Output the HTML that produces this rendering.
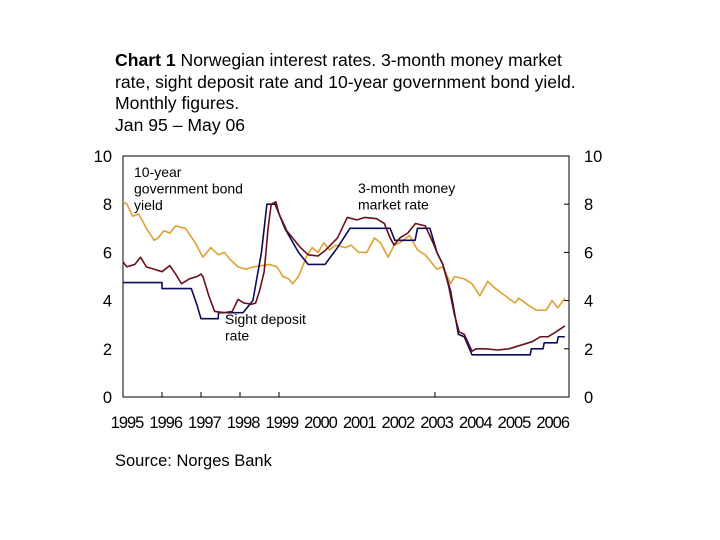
<!DOCTYPE html>
<html><head><meta charset="utf-8"><style>
body{margin:0;background:#fff;font-family:"Liberation Sans",sans-serif;}
#wrap{position:relative;width:720px;height:540px;overflow:hidden}
#title{position:absolute;left:115px;top:50px;font-size:17.6px;line-height:21.6px;color:#000}
#src{position:absolute;left:115px;top:452px;font-size:16.5px}
svg{position:absolute;left:0;top:0}
</style></head><body>
<div id="wrap">
<div id="title"><b>Chart 1</b> Norwegian interest rates. 3-month money market<br>rate, sight deposit rate and 10-year government bond yield.<br>Monthly figures.<br>Jan 95 – May 06</div>
<div id="src">Source: Norges Bank</div>
<svg id="chart" width="720" height="540"></svg>
</div>
<script>
const yTicks=[0,2,4,6,8,10];
const years=["1995","1996","1997","1998","1999","2000","2001","2002","2003","2004","2005","2006"];
const xTickYears=[1,2,3,4,8];
const sightT=[0,1.0,1.0,1.75,1.9,2.0,2.44,2.45,3.08,3.33,3.55,3.69,3.9,4.15,4.5,4.75,5.18,5.5,5.82,6.85,6.97,7.49,7.55,7.87,8.05,8.2,8.4,8.6,8.75,8.95,10.44,10.47,10.77,10.8,11.13,11.16,11.33];
const sightV=[4.75,4.75,4.5,4.5,3.8,3.25,3.25,3.5,3.5,4.0,6.0,8.0,8.0,7.0,6.0,5.5,5.5,6.2,7.0,7.0,6.5,6.5,7.0,7.0,6.0,5.5,4.4,2.6,2.5,1.75,1.75,2.0,2.0,2.25,2.25,2.5,2.5];
const mmT=[0,0.1,0.3,0.45,0.6,0.8,1.0,1.2,1.35,1.5,1.7,1.9,2.0,2.05,2.2,2.35,2.6,2.8,2.95,3.1,3.3,3.4,3.5,3.62,3.72,3.8,3.92,4.0,4.2,4.4,4.55,4.75,5.0,5.2,5.5,5.75,6.0,6.2,6.5,6.7,6.85,6.95,7.1,7.3,7.5,7.75,7.95,8.05,8.2,8.35,8.5,8.62,8.75,8.95,9.05,9.3,9.6,9.9,10.2,10.5,10.7,10.9,11.1,11.33];
const mmV=[5.6,5.4,5.5,5.8,5.4,5.3,5.2,5.45,5.1,4.7,4.9,5.0,5.1,5.0,4.2,3.55,3.5,3.55,4.05,3.9,3.85,3.9,4.4,5.2,7.0,8.0,8.1,7.6,6.9,6.5,6.2,5.9,5.85,6.1,6.6,7.45,7.35,7.45,7.4,7.2,6.6,6.3,6.6,6.8,7.2,7.1,6.4,6.0,5.5,4.6,3.4,2.7,2.6,1.9,2.0,2.0,1.95,2.0,2.15,2.3,2.5,2.5,2.7,2.95];
const bondT=[0,0.1,0.25,0.4,0.6,0.8,0.9,1.05,1.2,1.35,1.6,1.85,2.05,2.25,2.45,2.6,2.75,2.95,3.15,3.35,3.55,3.75,3.95,4.1,4.25,4.35,4.5,4.7,4.85,5.0,5.15,5.3,5.45,5.7,5.85,6.05,6.25,6.45,6.6,6.8,6.95,7.1,7.35,7.55,7.75,7.9,8.05,8.2,8.4,8.5,8.75,8.95,9.15,9.35,9.55,9.8,10.05,10.15,10.4,10.6,10.85,11.0,11.15,11.33];
const bondV=[8.1,8.0,7.5,7.6,7.0,6.5,6.6,6.9,6.8,7.1,7.0,6.4,5.8,6.2,5.9,6.0,5.7,5.4,5.3,5.4,5.45,5.5,5.4,5.0,4.9,4.7,5.0,5.8,6.2,6.0,6.4,6.1,6.3,6.2,6.3,6.0,6.0,6.6,6.4,5.8,6.3,6.4,6.7,6.1,5.9,5.6,5.3,5.4,4.7,5.0,4.9,4.7,4.2,4.8,4.5,4.2,3.9,4.1,3.8,3.6,3.6,4.0,3.7,4.1];
const L=123,R=569,T=156,B=397;
const X=t=>L+t*39.0;
const Y=v=>B-v*(B-T)/10;
const svg=document.getElementById('chart');
const NS='http://www.w3.org/2000/svg';
function mk(tag,attrs){const e=document.createElementNS(NS,tag);for(const k in attrs)e.setAttribute(k,attrs[k]);svg.appendChild(e);return e;}
const box=mk('rect',{x:L,y:T,width:R-L,height:B-T,fill:'none',stroke:'#000','stroke-width':1});


yTicks.forEach(v=>{
  const tl=mk('text',{x:112,y:Y(v)+6,'text-anchor':'end','font-size':16.5,'font-family':'Liberation Sans, sans-serif'});tl.textContent=v;
  
  
  const tr=mk('text',{x:584,y:Y(v)+6,'font-size':16.5,'font-family':'Liberation Sans, sans-serif'});tr.textContent=v;
  
  
  if(v>0&&v<10){const a=mk('line',{x1:R-5,x2:R,y1:Y(v),y2:Y(v),stroke:'#000'});
  
  }
});
years.forEach((y,i)=>{
  const t=mk('text',{x:127+i*38.7,y:428,'text-anchor':'middle','font-size':16.5,'font-family':'Liberation Sans, sans-serif','letter-spacing':'-1'});t.textContent=y;
  
  
});
xTickYears.forEach(i=>{
  const m=mk('line',{x1:X(i),x2:X(i),y1:B-5,y2:B,stroke:'#000'});
  
  
});
function line(ts,vs,color,name){
  const p=mk('polyline',{points:ts.map((t,i)=>X(t)+','+Y(vs[i])).join(' '),fill:'none',stroke:color,'stroke-width':1.6,'stroke-linejoin':'round'});
  
  
}
line(bondT,bondV,'#e0a030','bond-yield-line');
line(sightT,sightV,'#0b0b5e','sight-deposit-line');
line(mmT,mmV,'#6b0f1a','money-market-line');
function lab(lines,x,y,name){
  lines.forEach((s,i)=>{const t=mk('text',{x:x,y:y+i*16.5,'font-size':14,'font-family':'Liberation Sans, sans-serif'});t.textContent=s;
  
  });
}
lab(['10-year','government bond','yield'],134,177,'bond-label');
lab(['3-month money','market rate'],358,193,'money-market-label');
lab(['Sight deposit','rate'],225,324,'sight-deposit-label');
</script>
</body></html>
